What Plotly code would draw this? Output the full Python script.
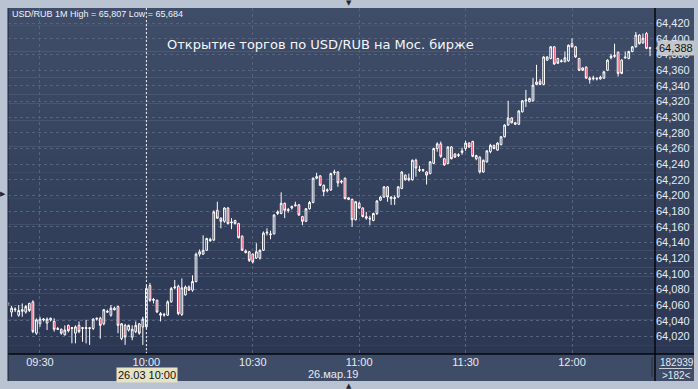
import plotly.graph_objects as go
import pandas as pd

# ---- data: USD/RUB 1-minute candles, 26.03.2019 09:21 .. 12:22 ----
open_ = [
    64.061, 64.051, 64.055, 64.047, 64.052, 64.051, 64.062, 64.064, 64.024,            # 09:21-09:29
    64.036, 64.041, 64.037, 64.041, 64.039, 64.030, 64.029, 64.022, 64.034, 64.030,    # 09:30-09:39
    64.024, 64.034, 64.030, 64.030, 64.031, 64.030, 64.042, 64.043, 64.036, 64.052,    # 09:40-09:49
    64.047, 64.056, 64.058, 64.017, 64.034, 64.028, 64.019, 64.026, 64.036, 64.032,    # 09:50-09:59
    64.032, 64.085, 64.066, 64.066, 64.049, 64.047, 64.047, 64.064, 64.082, 64.084,    # 10:00-10:09
    64.048, 64.073, 64.083, 64.079, 64.090, 64.125, 64.125, 64.130, 64.144, 64.143,    # 10:10-10:19
    64.181, 64.171, 64.167, 64.184, 64.165, 64.168, 64.164, 64.148, 64.129, 64.128,    # 10:20-10:29
    64.125, 64.120, 64.120, 64.130, 64.152, 64.151, 64.151, 64.177, 64.177, 64.190,    # 10:30-10:39
    64.182, 64.184, 64.188, 64.188, 64.173, 64.167, 64.183, 64.191, 64.222, 64.225,    # 10:40-10:49
    64.213, 64.206, 64.207, 64.229, 64.230, 64.217, 64.222, 64.197, 64.195, 64.169,    # 10:50-10:59
    64.190, 64.184, 64.173, 64.171, 64.168, 64.177, 64.194, 64.198, 64.211, 64.198,    # 11:00-11:09
    64.196, 64.198, 64.209, 64.226, 64.222, 64.220, 64.245, 64.232, 64.232, 64.230,    # 11:10-11:19
    64.228, 64.241, 64.260, 64.266, 64.247, 64.241, 64.262, 64.253, 64.251, 64.255,    # 11:20-11:29
    64.260, 64.267, 64.269, 64.247, 64.249, 64.230, 64.243, 64.256, 64.264, 64.258,    # 11:30-11:39
    64.265, 64.275, 64.290, 64.299, 64.293, 64.291, 64.307, 64.321, 64.320, 64.321,    # 11:40-11:49
    64.345, 64.346, 64.342, 64.373, 64.375, 64.390, 64.375, 64.371, 64.371, 64.372,    # 11:50-11:59
    64.394, 64.390, 64.375, 64.363, 64.364, 64.350, 64.349, 64.350, 64.349, 64.350,    # 12:00-12:09
    64.360, 64.376, 64.379, 64.383, 64.373, 64.377, 64.375, 64.384, 64.390, 64.405,    # 12:10-12:19
    64.395, 64.407, 64.389,                                                             # 12:20-12:22
]
high = [
    64.064, 64.059, 64.057, 64.060, 64.062, 64.060, 64.063, 64.066, 64.043,
    64.045, 64.043, 64.044, 64.044, 64.043, 64.032, 64.030, 64.034, 64.035, 64.032,
    64.034, 64.039, 64.032, 64.041, 64.032, 64.043, 64.044, 64.045, 64.055, 64.054,
    64.060, 64.058, 64.059, 64.037, 64.036, 64.035, 64.034, 64.039, 64.037, 64.045,
    64.085, 64.088, 64.069, 64.067, 64.051, 64.050, 64.066, 64.083, 64.092, 64.086,
    64.094, 64.085, 64.085, 64.098, 64.127, 64.131, 64.149, 64.146, 64.146, 64.181,
    64.192, 64.172, 64.185, 64.185, 64.171, 64.169, 64.165, 64.149, 64.131, 64.129,
    64.126, 64.139, 64.131, 64.154, 64.158, 64.155, 64.176, 64.181, 64.204, 64.191,
    64.184, 64.187, 64.192, 64.189, 64.174, 64.184, 64.193, 64.223, 64.229, 64.226,
    64.214, 64.209, 64.229, 64.233, 64.231, 64.220, 64.223, 64.198, 64.196, 64.193,
    64.192, 64.185, 64.179, 64.174, 64.178, 64.194, 64.199, 64.212, 64.212, 64.199,
    64.200, 64.212, 64.231, 64.227, 64.228, 64.246, 64.247, 64.238, 64.234, 64.231,
    64.244, 64.261, 64.268, 64.269, 64.248, 64.263, 64.263, 64.254, 64.254, 64.261,
    64.270, 64.268, 64.270, 64.252, 64.250, 64.246, 64.258, 64.266, 64.265, 64.268,
    64.276, 64.291, 64.321, 64.300, 64.294, 64.309, 64.322, 64.335, 64.325, 64.350,
    64.367, 64.349, 64.378, 64.378, 64.391, 64.391, 64.376, 64.374, 64.384, 64.393,
    64.401, 64.391, 64.376, 64.364, 64.365, 64.352, 64.353, 64.351, 64.353, 64.359,
    64.374, 64.381, 64.394, 64.384, 64.374, 64.384, 64.385, 64.391, 64.409, 64.406,
    64.407, 64.409, 64.390,
]
low = [
    64.059, 64.045, 64.051, 64.045, 64.045, 64.049, 64.051, 64.024, 64.022,
    64.032, 64.039, 64.028, 64.039, 64.026, 64.028, 64.022, 64.021, 64.025, 64.011,
    64.011, 64.024, 64.013, 64.011, 64.009, 64.028, 64.040, 64.017, 64.034, 64.050,
    64.045, 64.053, 64.024, 64.015, 64.009, 64.026, 64.015, 64.024, 64.022, 64.009,
    64.030, 64.064, 64.062, 64.050, 64.039, 64.045, 64.046, 64.063, 64.080, 64.047,
    64.046, 64.072, 64.078, 64.077, 64.089, 64.122, 64.124, 64.129, 64.141, 64.142,
    64.170, 64.158, 64.165, 64.163, 64.157, 64.163, 64.145, 64.129, 64.126, 64.115,
    64.113, 64.119, 64.118, 64.129, 64.149, 64.144, 64.150, 64.175, 64.176, 64.171,
    64.178, 64.182, 64.186, 64.174, 64.162, 64.166, 64.182, 64.190, 64.221, 64.212,
    64.199, 64.204, 64.206, 64.226, 64.211, 64.215, 64.195, 64.194, 64.160, 64.168,
    64.183, 64.172, 64.169, 64.162, 64.167, 64.175, 64.193, 64.197, 64.192, 64.188,
    64.188, 64.197, 64.208, 64.219, 64.218, 64.219, 64.224, 64.230, 64.230, 64.214,
    64.227, 64.240, 64.256, 64.248, 64.238, 64.240, 64.246, 64.248, 64.249, 64.252,
    64.257, 64.261, 64.249, 64.245, 64.228, 64.229, 64.242, 64.254, 64.259, 64.257,
    64.264, 64.274, 64.289, 64.292, 64.290, 64.290, 64.306, 64.313, 64.319, 64.320,
    64.341, 64.341, 64.341, 64.372, 64.374, 64.367, 64.368, 64.370, 64.370, 64.371,
    64.389, 64.376, 64.359, 64.359, 64.349, 64.343, 64.347, 64.347, 64.348, 64.349,
    64.359, 64.374, 64.376, 64.352, 64.355, 64.375, 64.374, 64.383, 64.389, 64.393,
    64.394, 64.387, 64.378,
]
close = [
    64.062, 64.056, 64.054, 64.053, 64.054, 64.058, 64.053, 64.026, 64.041,
    64.042, 64.042, 64.042, 64.043, 64.029, 64.029, 64.024, 64.028, 64.027, 64.031,
    64.032, 64.026, 64.031, 64.031, 64.030, 64.042, 64.043, 64.034, 64.054, 64.051,
    64.056, 64.054, 64.034, 64.036, 64.019, 64.034, 64.029, 64.034, 64.024, 64.042,
    64.081, 64.066, 64.067, 64.051, 64.047, 64.048, 64.064, 64.081, 64.083, 64.049,
    64.082, 64.083, 64.079, 64.090, 64.125, 64.128, 64.130, 64.145, 64.142, 64.179,
    64.171, 64.167, 64.184, 64.164, 64.166, 64.164, 64.146, 64.130, 64.127, 64.117,
    64.115, 64.128, 64.130, 64.152, 64.153, 64.150, 64.175, 64.179, 64.190, 64.181,
    64.181, 64.186, 64.187, 64.175, 64.167, 64.183, 64.191, 64.222, 64.224, 64.213,
    64.205, 64.207, 64.228, 64.230, 64.216, 64.218, 64.196, 64.195, 64.169, 64.192,
    64.184, 64.173, 64.171, 64.170, 64.177, 64.193, 64.198, 64.211, 64.198, 64.196,
    64.197, 64.211, 64.230, 64.220, 64.220, 64.245, 64.235, 64.233, 64.233, 64.226,
    64.243, 64.260, 64.266, 64.250, 64.239, 64.262, 64.247, 64.249, 64.252, 64.257,
    64.267, 64.262, 64.250, 64.251, 64.230, 64.245, 64.257, 64.264, 64.260, 64.267,
    64.275, 64.290, 64.299, 64.293, 64.291, 64.308, 64.321, 64.322, 64.324, 64.341,
    64.342, 64.342, 64.377, 64.377, 64.390, 64.368, 64.369, 64.372, 64.376, 64.392,
    64.390, 64.377, 64.360, 64.360, 64.350, 64.348, 64.350, 64.349, 64.351, 64.358,
    64.373, 64.378, 64.378, 64.356, 64.356, 64.376, 64.384, 64.390, 64.405, 64.394,
    64.401, 64.388, 64.388,
]
assert len(open_) == len(high) == len(low) == len(close) == 182

start_time = "2019-03-26 09:21"
y_tick_values = [64.02, 64.04, 64.06, 64.08, 64.10, 64.12, 64.14, 64.16, 64.18, 64.20, 64.22,
                 64.24, 64.26, 64.28, 64.30, 64.32, 64.34, 64.36, 64.38, 64.40, 64.42]
last_price = 64.388
title_text = "USD/RUB 1M High = 65,807 Low = 65,684"
caption = "Открытие торгов по USD/RUB на Мос. бирже"

times = pd.date_range(start_time, periods=len(open_), freq="min")

# ---- geometry (pixels) ----
W, H = 698, 389
L, R, T, B = 8, 655, 8, 354
PR, PB = 694, 381  # outer panel right / bottom


def px(x):
    return (x - L) / (R - L)


def py(y):
    return (B - y) / (B - T)


FONT = "Liberation Sans, Arial, sans-serif"
LABEL_COL = "#e4ebf5"

shapes = []
# gradient dark background (plot + right axis panel)
top_c = (63, 77, 104)
bot_c = (43, 55, 83)
N = 40
for i in range(N):
    f = i / (N - 1)
    c = tuple(int(round(top_c[k] + (bot_c[k] - top_c[k]) * f)) for k in range(3))
    y0 = T + (B - T) * i / N
    y1 = T + (B - T) * (i + 1) / N
    shapes.append(dict(type="rect", xref="paper", yref="paper", x0=px(L), x1=px(PR),
                       y0=py(y1) - 0.001, y1=py(y0), line=dict(width=0),
                       fillcolor="rgb(%d,%d,%d)" % c, layer="below"))
# bottom axis panel
shapes.append(dict(type="rect", xref="paper", yref="paper", x0=px(L), x1=px(PR),
                   y0=py(PB), y1=py(B), line=dict(width=0), fillcolor="#3f4c67", layer="below"))
# crosshair at 10:00
shapes.append(dict(type="line", xref="x", yref="paper", x0="2019-03-26 10:00", x1="2019-03-26 10:00",
                   y0=0, y1=1, line=dict(color="#f2f2f2", width=1, dash="2px,2px")))
# black separators
shapes.append(dict(type="line", xref="paper", yref="paper", x0=px(R), x1=px(R), y0=py(PB), y1=py(T),
                   line=dict(color="#05080d", width=1.5)))
shapes.append(dict(type="line", xref="paper", yref="paper", x0=px(L), x1=px(PR), y0=py(B), y1=py(B),
                   line=dict(color="#05080d", width=1.5)))
shapes.append(dict(type="line", xref="paper", yref="paper", x0=px(L), x1=px(L), y0=py(PB), y1=py(T),
                   line=dict(color="#1c2333", width=1)))
shapes.append(dict(type="line", xref="paper", yref="paper", x0=px(652), x1=px(652), y0=py(377), y1=py(357),
                   line=dict(color="#262e3e", width=1)))
shapes.append(dict(type="line", xref="paper", yref="paper", x0=px(659), x1=px(692), y0=py(368.5), y1=py(368.5),
                   line=dict(color="#c8d0dc", width=1)))
# last-price marker arrow
shapes.append(dict(type="path", xref="paper", yref="paper",
                   path="M %f %f L %f %f L %f %f Z" % (px(655.5), py(48.3), px(659), py(44.5), px(659), py(52.1)),
                   fillcolor="#c4c6cb", line=dict(width=0)))

annotations = [
    dict(xref="paper", yref="paper", x=px(10), y=py(14), xanchor="left", yanchor="middle",
         text=title_text, showarrow=False, font=dict(family=FONT, size=9, color="#edf2f8")),
    dict(xref="paper", yref="paper", x=px(320), y=py(45), xanchor="center", yanchor="middle",
         text=caption, showarrow=False, font=dict(family="DejaVu Sans, sans-serif", size=13, color="#f4f6fa")),
    dict(xref="paper", yref="paper", x=px(333), y=py(374), xanchor="center", yanchor="middle",
         text="26.мар.19", showarrow=False, font=dict(family=FONT, size=11, color=LABEL_COL)),
    dict(xref="paper", yref="paper", x=px(147), y=py(374.5), xanchor="center", yanchor="middle",
         text="26.03 10:00", showarrow=False, bgcolor="#e6e2c4", borderpad=1,
         font=dict(family=FONT, size=11, color="#111111")),
    dict(xref="paper", yref="y", x=px(676.5), y=last_price, xanchor="center", yanchor="middle",
         text="64,388", showarrow=False, bgcolor="#c4c6cb", borderpad=1,
         font=dict(family=FONT, size=11, color="#111111")),
    dict(xref="paper", yref="paper", x=px(677), y=py(362), xanchor="center", yanchor="middle",
         text="182939", showarrow=False, font=dict(family=FONT, size=10, color=LABEL_COL)),
    dict(xref="paper", yref="paper", x=px(676), y=py(375), xanchor="center", yanchor="middle",
         text="&gt;182&lt;", showarrow=False, font=dict(family=FONT, size=10, color=LABEL_COL)),
    dict(xref="paper", yref="paper", x=px(349), y=py(3), xanchor="center", yanchor="middle",
         text="▼", showarrow=False, font=dict(family="DejaVu Sans", size=7, color="#1e2636")),
    dict(xref="paper", yref="paper", x=px(349), y=py(386), xanchor="center", yanchor="middle",
         text="▲", showarrow=False, font=dict(family="DejaVu Sans", size=7, color="#1e2636")),
    dict(xref="paper", yref="paper", x=px(3), y=py(194), xanchor="center", yanchor="middle",
         text="▶", showarrow=False, font=dict(family="DejaVu Sans", size=7, color="#1e2636")),
]

fig = go.Figure(go.Candlestick(
    x=times, open=open_, high=high, low=low, close=close,
    increasing=dict(line=dict(color="#ffffff", width=1), fillcolor="rgba(0,0,0,0)"),
    decreasing=dict(line=dict(color="#ffffff", width=1), fillcolor="#e3173f"),
    whiskerwidth=0, hoverinfo="skip", showlegend=False,
))

grid = dict(gridcolor="#56637c", gridwidth=1, griddash="3px,3px")

fig.update_layout(
    width=W, height=H,
    margin=dict(l=L, r=W - R, t=T, b=H - B, autoexpand=False),
    paper_bgcolor="#b9c3d1",
    plot_bgcolor="rgba(0,0,0,0)",
    separators=", ",
    showlegend=False,
    shapes=shapes,
    annotations=annotations,
    xaxis=dict(type="date", range=["2019-03-26 09:20:59", "2019-03-26 12:23:24"],
               rangeslider=dict(visible=False), showgrid=True, **grid,
               tick0="2019-03-26 09:30", dtick=30 * 60 * 1000, tickformat="%H:%M",
               ticks="", showline=False, zeroline=False,
               tickfont=dict(family=FONT, size=11, color=LABEL_COL)),
    yaxis=dict(side="right", range=[63.9974, 64.4396], tickmode="array", tickvals=y_tick_values,
               tickformat=".3f", showgrid=True, **grid, ticks="", showline=False, zeroline=False,
               tickfont=dict(family=FONT, size=11, color=LABEL_COL)),
)

fig.write_html("out.html")
